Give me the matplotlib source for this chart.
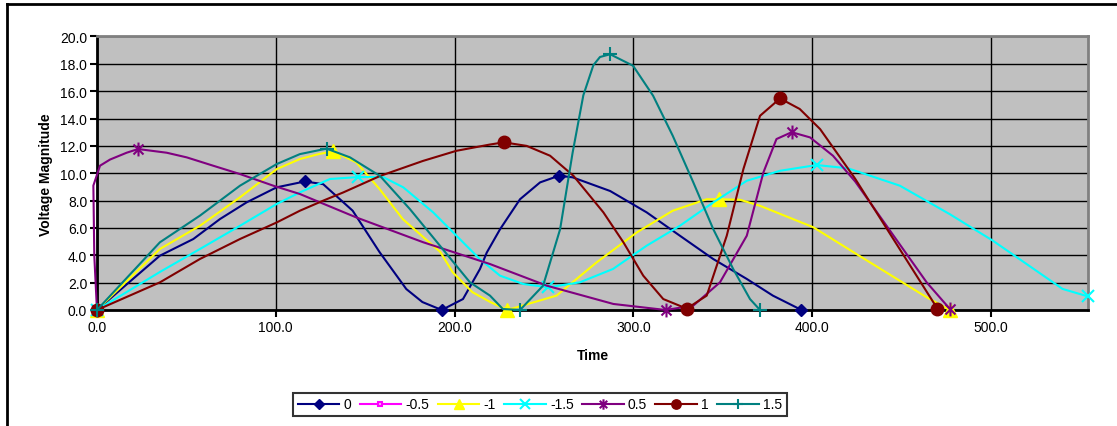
import matplotlib
matplotlib.use("Agg")
import matplotlib.pyplot as plt
from matplotlib.lines import Line2D
from matplotlib.path import Path

plt.rcParams["font.family"] = ["Liberation Sans", "DejaVu Sans"]
plt.rcParams["font.size"] = 10

# series values
x_0 = [0, 35.2, 53.9, 68.8, 83.7, 100.5, 116.3, 126.5, 143, 158, 173, 182, 192.8, 204.7,
       214.2, 218, 225.4, 236.6, 247.8, 258.4, 266, 287, 307.4, 326, 344.6, 363.4, 378, 394]
y_0 = [0, 3.97, 5.19, 6.65, 7.87, 8.97, 9.4, 9.2, 7.26, 4.24, 1.53, 0.58, 0, 0.8,
       3.0, 4.2, 5.9, 8.1, 9.33, 9.82, 9.7, 8.7, 7.14, 5.43, 3.73, 2.27, 1.05, 0]
mk_0 = [0, 6, 12, 19, 27]

x_m05 = [0]
y_m05 = [0]
mk_m05 = [0]

x_m1 = [0, 35.2, 57.6, 80, 100.5, 113.5, 124, 132, 145, 158, 171, 192, 199, 210, 220, 229.5,
        257, 279.5, 302, 322, 341, 347.6, 359.6, 370.8, 400.6, 424, 464, 477]
y_m1 = [0, 4.46, 6.16, 8.24, 10.3, 11.04, 11.4, 11.6, 10.8, 8.85, 6.65, 4.24, 2.75, 1.3, 0.58, 0,
        1.05, 3.49, 5.68, 7.26, 8.1, 8.1, 8.06, 7.62, 6.05, 4.15, 0.93, 0]
mk_m1 = [0, 7, 15, 21, 27]

x_m15 = [0, 35.2, 57.6, 80, 100.5, 113.5, 130.3, 146, 160, 171.3, 188, 204.7, 214, 225.4, 238.4,
         252.4, 270, 288.6, 307.4, 326, 344.7, 363.4, 382, 402.5, 420, 449, 477, 501, 540, 554]
y_m15 = [0, 2.78, 4.46, 6.16, 7.75, 8.6, 9.58, 9.72, 9.72, 8.97, 7.14, 4.95, 3.73, 2.51, 1.9,
         1.66, 2.02, 3.0, 4.7, 6.16, 7.87, 9.45, 10.18, 10.6, 10.36, 9.09, 7.0, 5.07, 1.54, 1.0]
mk_m15 = [0, 7, 15, 23, 29]

x_05 = [0, -1.5, -2, 1.7, 7.3, 16.6, 23, 39, 50.2, 65, 80, 98.6, 113.5, 145, 182.5, 219.8,
        251.5, 288.8, 318, 333.5, 348.4, 363.4, 372.7, 380, 388.5, 398.8, 411.6, 424, 464, 477]
y_05 = [0, 4.0, 9.1, 10.55, 11.0, 11.5, 11.77, 11.5, 11.16, 10.55, 9.94, 9.09, 8.48, 6.77, 4.95, 3.36,
        1.78, 0.44, 0, 0.32, 2.02, 5.43, 10.06, 12.5, 13.0, 12.62, 11.28, 9.4, 2.02, 0.07]
mk_05 = [0, 6, 18, 24, 29]

x_1 = [0, 35.2, 57.6, 80, 100.5, 113.5, 126.6, 137.8, 158.3, 182.3, 201, 219.8, 227.6, 240.3, 253.4,
       266.4, 283.2, 294.4, 305.5, 316.7, 329.8, 341, 352.2, 361.5, 370.8, 382, 393, 404.4, 424, 470]
y_1 = [0, 2.02, 3.73, 5.19, 6.4, 7.26, 8.0, 8.6, 9.8, 10.9, 11.64, 12.1, 12.26, 12.0, 11.28,
       9.82, 7.14, 4.95, 2.51, 0.8, 0.1, 1.05, 5.43, 10.3, 14.2, 15.47, 14.7, 13.23, 9.6, 0.1]
mk_1 = [0, 12, 20, 25, 29]

x_15 = [0, 35.2, 57.6, 80, 100.5, 113.5, 128.4, 141.5, 158.3, 175, 191.8, 208.6, 219.8, 227, 236.6,
        249.5, 259, 266, 272, 277.6, 281.3, 287, 299.8, 311, 322, 333.5, 344.7, 355.8, 365.2, 370.8]
y_15 = [0, 4.95, 6.9, 9.09, 10.67, 11.4, 11.8, 11.16, 9.8, 7.38, 4.7, 2.02, 1.05, 0.07, 0,
        1.78, 5.9, 11.5, 15.7, 17.9, 18.5, 18.7, 17.86, 15.67, 12.74, 9.33, 5.9, 3.0, 0.8, 0]
mk_15 = [0, 6, 14, 21, 29]

labels = ["0", "-0.5", "-1", "-1.5", "0.5", "1", "1.5"]
xticks = [0, 100, 200, 300, 400, 500]
yticks = [0, 2, 4, 6, 8, 10, 12, 14, 16, 18, 20]

star = Path([(0, -1), (0, 1), (-0.72, -0.72), (0.72, 0.72), (-0.72, 0.72), (0.72, -0.72)],
            [Path.MOVETO, Path.LINETO] * 3)

styles = [
    dict(color="#000080", marker="D", ms=6.5, mfc="#000080", mec="#000080"),
    dict(color="#FF00FF", marker="s", ms=4.5, mfc="#FFB0FF", mec="#FF00FF", mew=1.5),
    dict(color="#FFFF00", marker="^", ms=10, mfc="#FFFF00", mec="#FFFF00"),
    dict(color="#00FFFF", marker="x", ms=9, mec="#00FFFF", mew=1.5),
    dict(color="#800080", marker=star, ms=10, mec="#800080", mew=1.5),
    dict(color="#800000", marker="o", ms=9, mfc="#800000", mec="#800000"),
    dict(color="#008080", marker="+", ms=10, mec="#008080", mew=1.5),
]
series = [(x_0, y_0, mk_0), (x_m05, y_m05, mk_m05), (x_m1, y_m1, mk_m1), (x_m15, y_m15, mk_m15),
          (x_05, y_05, mk_05), (x_1, y_1, mk_1), (x_15, y_15, mk_15)]

fig = plt.figure(figsize=(11.17, 4.27), dpi=100)
ax = fig.add_axes([0.0868, 0.2717, 0.8872, 0.6405])
ax.set_facecolor("#C0C0C0")

for (xs, ys, mk), st in zip(series, styles):
    ax.plot(xs, ys, lw=1.5, markevery=mk, clip_on=False, zorder=3, **st)

ax.set_xlim(0, 554.2)
ax.set_ylim(0, 20)
ax.set_xticks(xticks)
ax.set_xticklabels([f"{v:.1f}" for v in xticks])
ax.set_yticks(yticks)
ax.set_yticklabels([f"{v:.1f}" for v in yticks])
ax.grid(True, color="black", lw=1.0)
ax.set_axisbelow(True)
ax.tick_params(direction="out", length=5, width=1.5, color="black", labelsize=10, pad=2)

for side in ["left", "bottom"]:
    ax.spines[side].set_color("black")
    ax.spines[side].set_linewidth(2)
for side in ["top", "right"]:
    ax.spines[side].set_color("#808080")
    ax.spines[side].set_linewidth(2)

ax.set_xlabel("Time", fontweight="bold", fontsize=10, labelpad=10)
ax.set_ylabel("Voltage Magnitude", fontweight="bold", fontsize=10, labelpad=5)

handles = [Line2D([], [], lw=1.5, **st) for st in styles]
leg = fig.legend(handles, labels, loc="center", bbox_to_anchor=(0.4834, 0.0504), ncol=7,
                 frameon=True, fancybox=False, edgecolor="black", fontsize=10,
                 handlelength=3.0, handletextpad=0.3, columnspacing=0.6, numpoints=1,
                 borderpad=0.35, markerscale=0.75)
leg.get_frame().set_linewidth(1.5)

# chart area frame (only left and top edges fall inside the image)
fig.add_artist(Line2D([0.0063, 0.0063], [0, 0.9883], color="black", lw=2, transform=fig.transFigure))
fig.add_artist(Line2D([0.0063, 1], [0.9883, 0.9883], color="black", lw=2, transform=fig.transFigure))

fig.savefig("out.png", dpi=100)
